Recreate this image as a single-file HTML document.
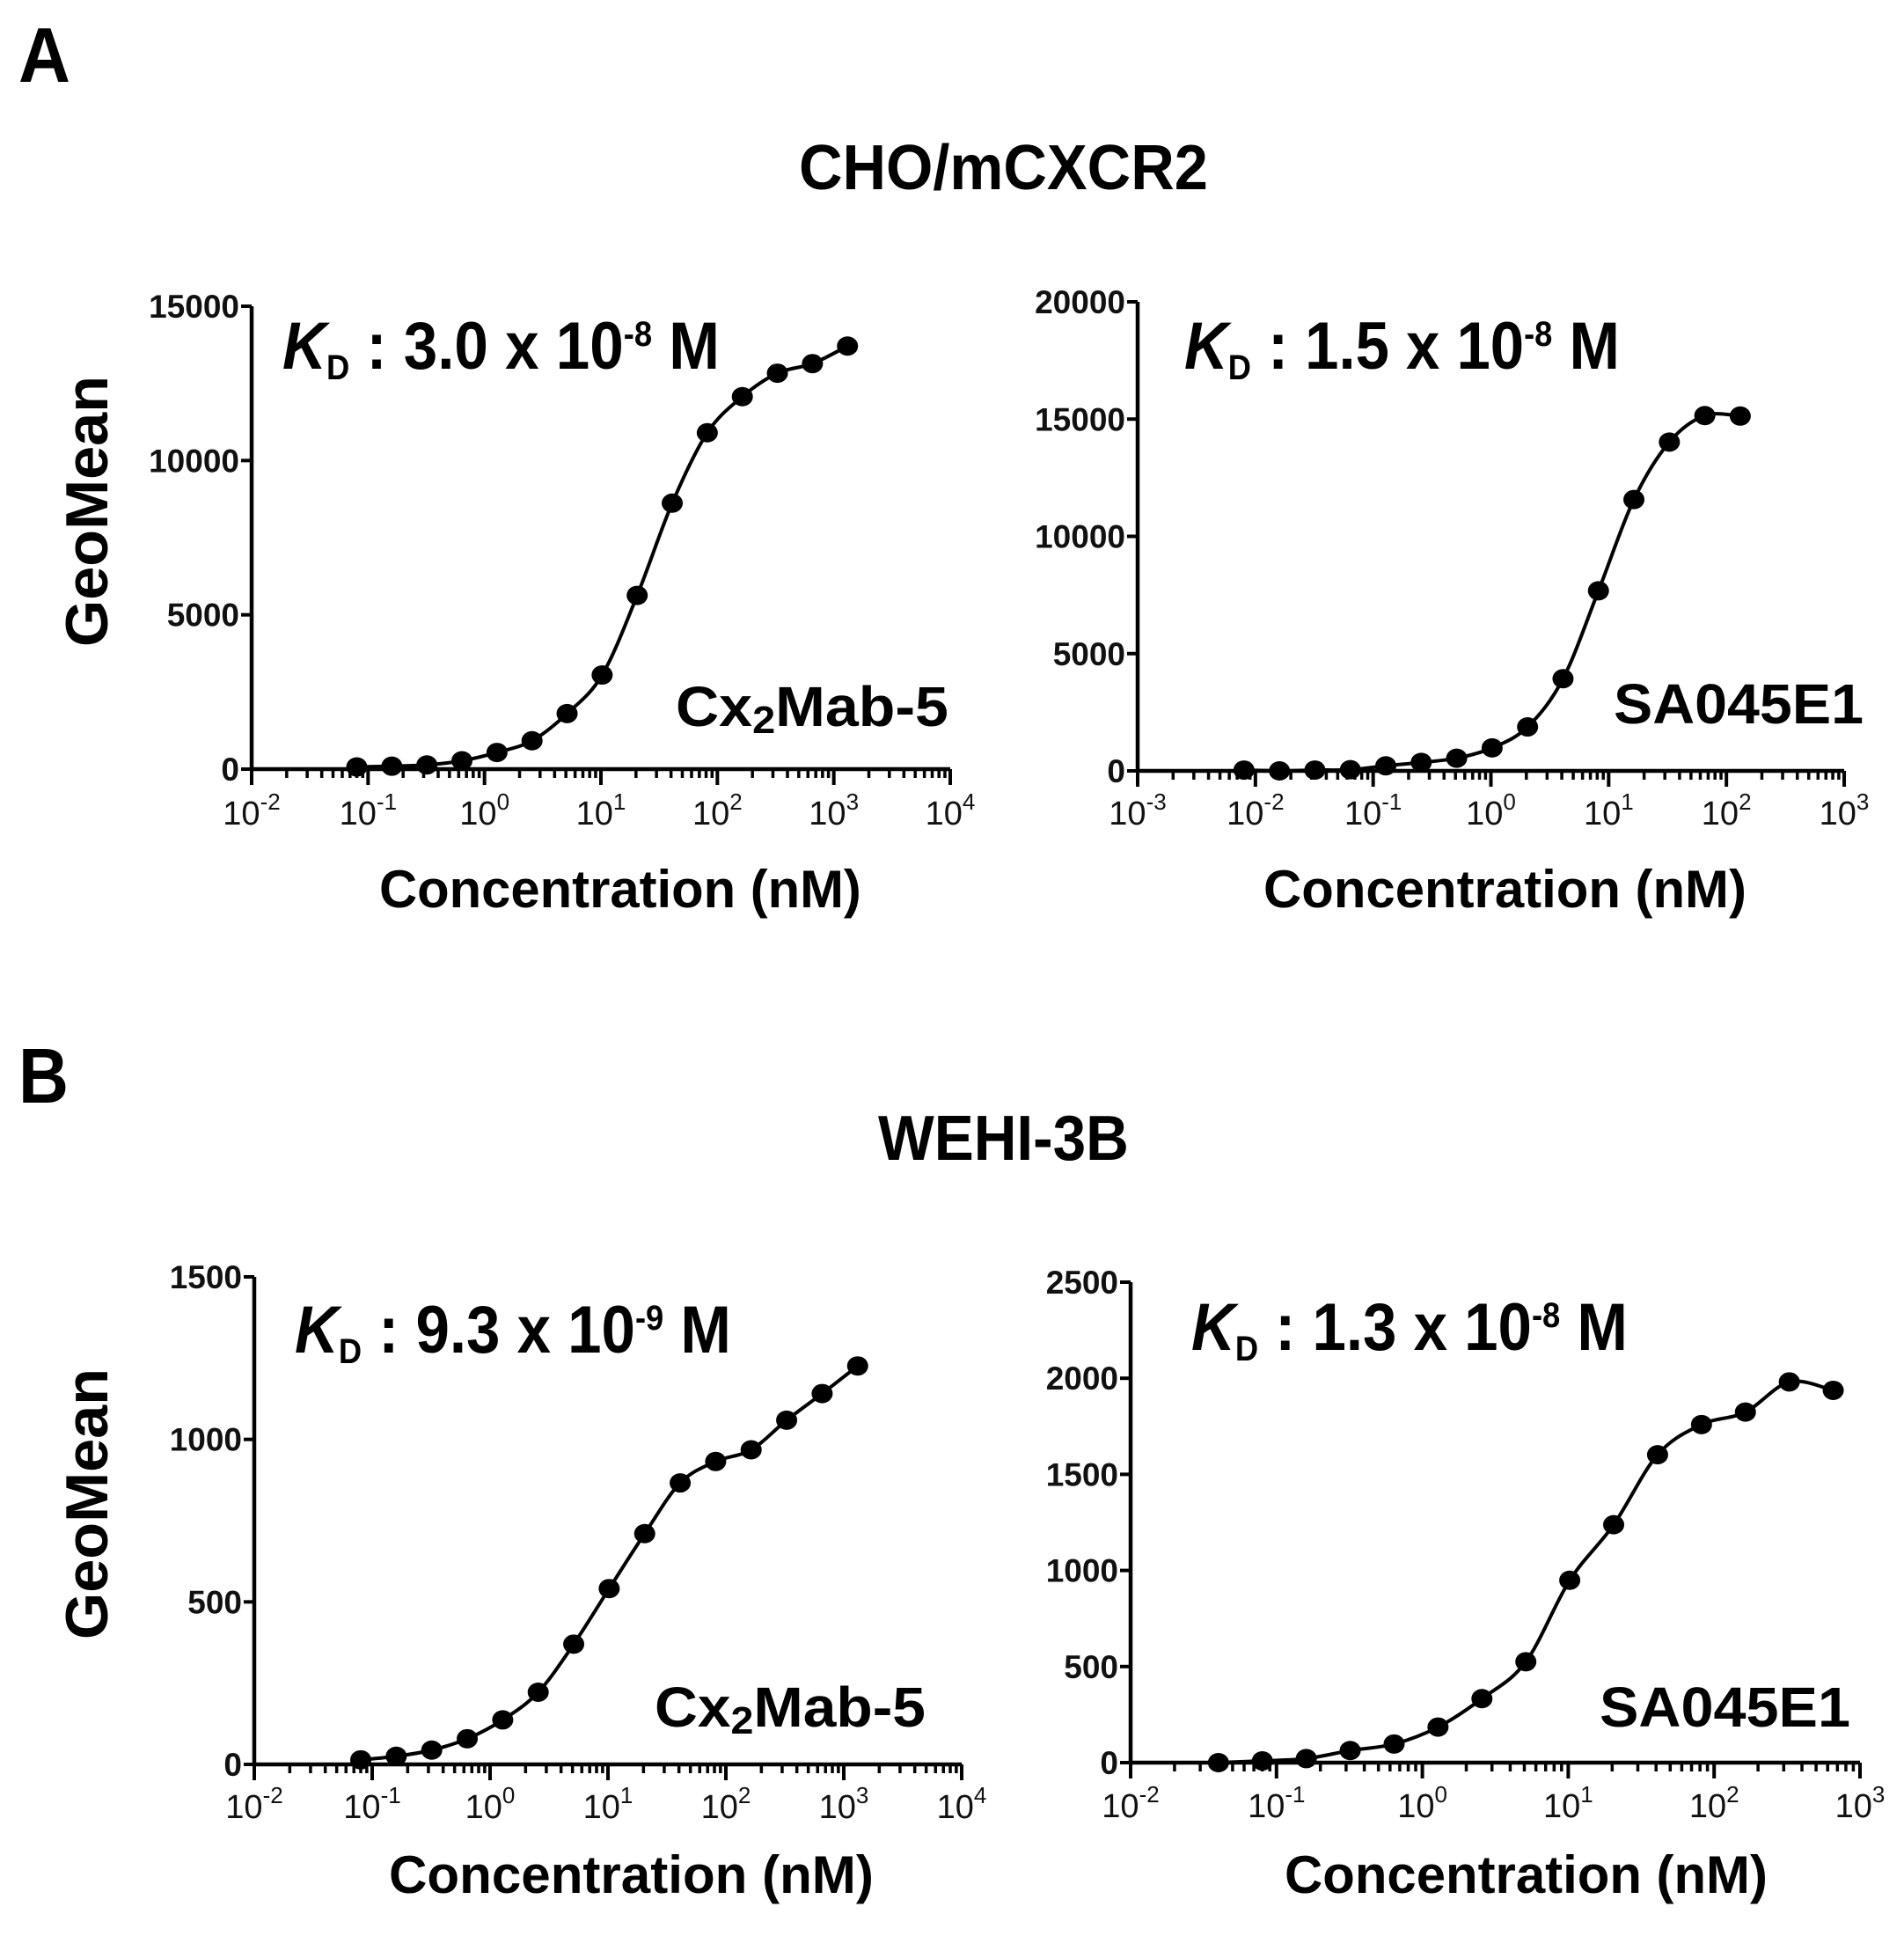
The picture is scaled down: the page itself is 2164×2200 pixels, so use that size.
<!DOCTYPE html>
<html><head><meta charset="utf-8"><style>
html,body{margin:0;padding:0;background:#fff;}
svg{display:block;font-family:"Liberation Sans",Arial,sans-serif;}
</style></head><body>
<svg id="fig" width="2164" height="2200" viewBox="0 0 2164 2200" xmlns="http://www.w3.org/2000/svg">
<rect width="2164" height="2200" fill="#fff"/>
</svg>
<script>
// ---------- data ----------
const aLeftX0 = 0.08;      // first concentration (nM), 2-fold dilutions
const aLeftY = [70,95,135,270,540,920,1800,3050,5630,8620,10900,12070,12830,13140,13710];
const aRightX0 = 0.008;
const aRightY = [35,0,35,50,215,360,540,980,1875,3930,7680,11570,14020,15150,15130];
const bLeftX0 = 0.08;
const bLeftY = [14,25,44,79,137,222,370,541,710,866,932,968,1059,1141,1226];
const bRightX0 = 0.04;
const bRightY = [0,9,21,63,97,185,333,525,949,1238,1602,1759,1824,1981,1937];
const aLeftYTicks = [0,5000,10000,15000];
const aRightYTicks = [0,5000,10000,15000,20000];
const bLeftYTicks = [0,500,1000,1500];
const bRightYTicks = [0,500,1000,1500,2000,2500];
const aLeftXDecades = [-2,-1,0,1,2,3,4];
const aRightXDecades = [-3,-2,-1,0,1,2,3];
const bLeftXDecades = [-2,-1,0,1,2,3,4];
const bRightXDecades = [-2,-1,0,1,2,3];

const NS = "http://www.w3.org/2000/svg";
const svg = document.getElementById('fig');
function mk(tag, attrs, parent){
  const e = document.createElementNS(NS, tag);
  for (const k in attrs) e.setAttribute(k, attrs[k]);
  (parent||svg).appendChild(e);
  return e;
}
function fit(el, x0, x1, y){
  const w = el.getBBox().width;
  const s = w>0 ? (x1-x0)/w : 1;
  el.setAttribute('transform', 'translate(' + x0 + ',' + y + ') scale(' + s + ',1)');
}
function bigText(name, parts, x0, x1, y, size, parent){
  const t = mk('text', {x:0, y:0, 'font-size':size, 'font-weight':'bold', fill:'#000'}, parent);
  
  
  parts.forEach(p=>{
    const ts = mk('tspan', p.a||{}, t);
    ts.textContent = p.t;
  });
  fit(t, x0, x1, y);
  return t;
}

function panel(cfg){
  const g = mk('g', {});
  
  
  const dMin = cfg.decades[0], dMax = cfg.decades[cfg.decades.length-1];
  const yMax = cfg.yticks[cfg.yticks.length-1];
  const sx = v => cfg.ax0 + (Math.log10(v)-dMin)/(dMax-dMin)*(cfg.ax1-cfg.ax0);
  const sy = v => cfg.ay0 - v/yMax*(cfg.ay0-cfg.ay1);
  const ya = mk('line', {x1:cfg.ax0, y1:cfg.ay0+2, x2:cfg.ax0, y2:cfg.ay1, stroke:'#000','stroke-width':4.5}, g);
   
  const xa = mk('line', {x1:cfg.ax0-2, y1:cfg.ay0, x2:cfg.ax1, y2:cfg.ay0, stroke:'#000','stroke-width':4.5}, g);
   
  cfg.yticks.forEach(v=>{
    const y = sy(v);
    const tk = mk('line', {x1:cfg.ax0-12, y1:y, x2:cfg.ax0, y2:y, stroke:'#000','stroke-width':4}, g);
     
    const t = mk('text', {x:cfg.ax0-14, y:y+13, 'text-anchor':'end','font-size':37,'font-weight':'bold',fill:'#111'}, g);
     
    t.textContent = v;
  });
  cfg.decades.forEach((d,i)=>{
    const x = sx(Math.pow(10,d));
    const tk = mk('line', {x1:x, y1:cfg.ay0, x2:x, y2:cfg.ay0+18, stroke:'#000','stroke-width':4}, g);
     
    if (i < cfg.decades.length-1){
      for (let m=2;m<=9;m++){
        const xm = sx(m*Math.pow(10,d));
        const mt = mk('line', {x1:xm, y1:cfg.ay0, x2:xm, y2:cfg.ay0+10, stroke:'#000','stroke-width':3.5}, g);
         
      }
    }
    const t = mk('text', {x:x, y:cfg.xlabY, 'text-anchor':'middle','font-size':38,fill:'#111'}, g);
     
    const a = mk('tspan', {}, t); a.textContent = '10';
    const b = mk('tspan', {dy:-17, 'font-size':26}, t); b.textContent = String(d);
  });
  const pts = cfg.ys.map((v,i)=>[sx(cfg.x0*Math.pow(2,i)), sy(v)]);
  let d = 'M' + pts[0][0] + ',' + pts[0][1];
  for (let i=0;i<pts.length-1;i++){
    const p0 = pts[Math.max(0,i-1)], p1 = pts[i], p2 = pts[i+1], p3 = pts[Math.min(pts.length-1,i+2)];
    const c1 = [p1[0]+(p2[0]-p0[0])/6, p1[1]+(p2[1]-p0[1])/6];
    const c2 = [p2[0]-(p3[0]-p1[0])/6, p2[1]-(p3[1]-p1[1])/6];
    d += ' C' + c1[0] + ',' + c1[1] + ' ' + c2[0] + ',' + c2[1] + ' ' + p2[0] + ',' + p2[1];
  }
  const c = mk('path', {d:d, fill:'none', stroke:'#000','stroke-width':4}, g);
   
  pts.forEach(p=>{
    const e = mk('ellipse', {cx:p[0], cy:p[1], rx:12, ry:11, fill:'#000'}, g);
     
  });
  bigText('kd-label', [
    {t:'K', a:{'font-style':'italic'}},
    {t:'D', a:{'font-size':40, dy:12}},
    {t:' : ' + cfg.kd + ' x 10', a:{dy:-12}},
    {t:cfg.kdExp, a:{'font-size':40, dy:-26}},
    {t:' M', a:{dy:26}}
  ], cfg.kdX0, cfg.kdX1, cfg.kdY, 76, g);
  if (cfg.sub){
    bigText('antibody-label', [{t:'Cx'},{t:'2',a:{'font-size':44, dy:8}},{t:'Mab-5',a:{dy:-8}}], cfg.abX0, cfg.abX1, cfg.abY, 64, g);
  } else {
    bigText('antibody-label', [{t:cfg.ab}], cfg.abX0, cfg.abX1, cfg.abY, 64, g);
  }
  bigText('x-axis-title', [{t:'Concentration (nM)'}], cfg.ctX0, cfg.ctX1, cfg.ctY, 60, g);
  if (cfg.geo){
    const t = mk('text', {x:0, y:0, 'text-anchor':'middle','font-size':68,'font-weight':'bold',fill:'#000', textLength:308, lengthAdjust:'spacingAndGlyphs', transform:'translate(122,' + cfg.geo + ') rotate(-90)'}, g);
     
    t.textContent = 'GeoMean';
  }
}

bigText('panel-letter-a', [{t:'A'}], 21, 80, 93, 88);
bigText('title-cho-mcxcr2', [{t:'CHO/mCXCR2'}], 908, 1373, 215, 72);
bigText('panel-letter-b', [{t:'B'}], 21, 78, 1253, 88);
bigText('title-wehi-3b', [{t:'WEHI-3B'}], 998, 1283, 1318, 72);

panel({name:'panel-a-cx2mab5', decades:aLeftXDecades, yticks:aLeftYTicks, ys:aLeftY, x0:aLeftX0,
  ax0:286, ax1:1080, ay0:874, ay1:348, xlabY:937,
  kd:'3.0', kdExp:'-8', kdX0:321, kdX1:818, kdY:419,
  sub:true, abX0:768, abX1:1078, abY:825,
  ctX0:431, ctX1:979, ctY:1031, geo:581});
panel({name:'panel-a-sa045e1', decades:aRightXDecades, yticks:aRightYTicks, ys:aRightY, x0:aRightX0,
  ax0:1293, ax1:2096, ay0:876, ay1:343, xlabY:937,
  kd:'1.5', kdExp:'-8', kdX0:1346, kdX1:1841, kdY:419,
  sub:false, ab:'SA045E1', abX0:1834, abX1:2118, abY:822,
  ctX0:1436, ctX1:1985, ctY:1031});
panel({name:'panel-b-cx2mab5', decades:bLeftXDecades, yticks:bLeftYTicks, ys:bLeftY, x0:bLeftX0,
  ax0:289, ax1:1093, ay0:2005, ay1:1451, xlabY:2066,
  kd:'9.3', kdExp:'-9', kdX0:335, kdX1:831, kdY:1537,
  sub:true, abX0:744, abX1:1052, abY:1962,
  ctX0:442, ctX1:993, ctY:2151, geo:1709});
panel({name:'panel-b-sa045e1', decades:bRightXDecades, yticks:bRightYTicks, ys:bRightY, x0:bRightX0,
  ax0:1285, ax1:2114, ay0:2003, ay1:1457, xlabY:2065,
  kd:'1.3', kdExp:'-8', kdX0:1354, kdX1:1850, kdY:1534,
  sub:false, ab:'SA045E1', abX0:1818, abX1:2103, abY:1962,
  ctX0:1460, ctX1:2009, ctY:2151});
</script>
</body></html>
